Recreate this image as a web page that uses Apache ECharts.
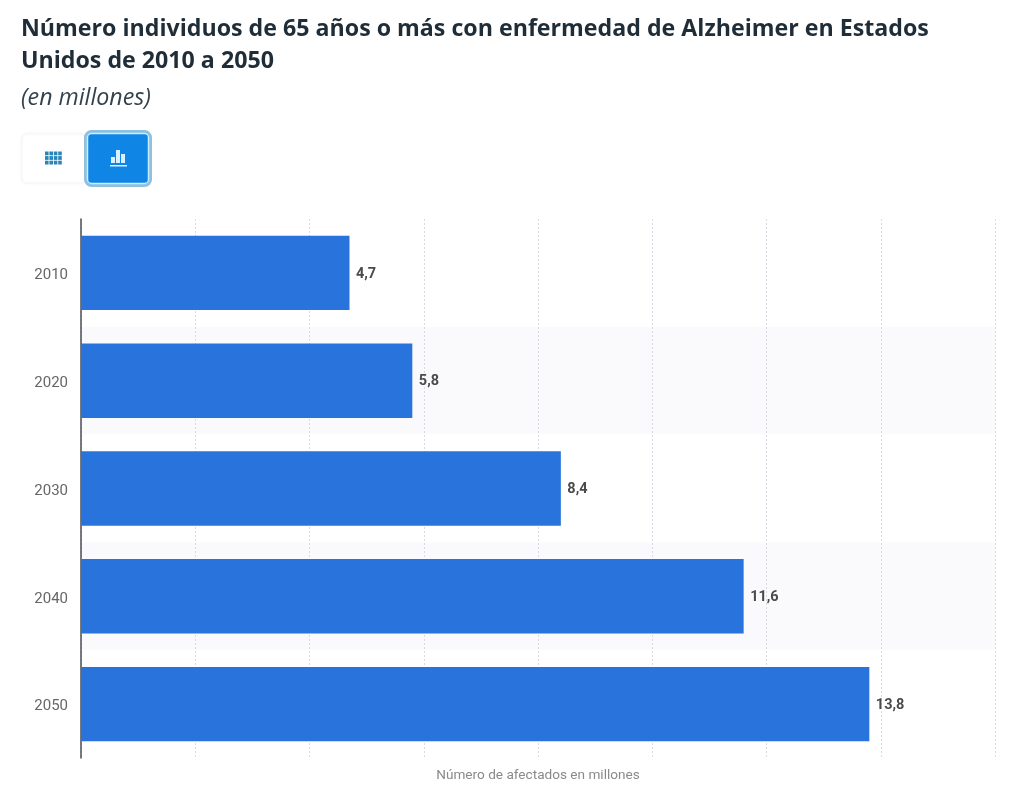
<!DOCTYPE html>
<html><head><meta charset="utf-8">
<style>html,body{margin:0;padding:0;background:#fff}#c{width:1024px;height:793px}</style>
<script src="https://cdn.jsdelivr.net/npm/echarts@6/dist/echarts.min.js"></script>
</head><body><div id="c"></div>
<script>
const titleText = "Número individuos de 65 años o más con enfermedad de Alzheimer en Estados\nUnidos de 2010 a 2050";
const subtitleText = "(en millones)";
const axisName = "Número de afectados en millones";
const categories = ["2010","2020","2030","2040","2050"];
const affected = [4.7,5.8,8.4,11.6,13.8];

const chart = echarts.init(document.getElementById('c'), null, {renderer:'canvas'});
const gridCells = [];
for (let r=0;r<3;r++) for (let q=0;q<4;q++) gridCells.push({type:'rect',z:2,shape:{x:45+q*4.4,y:151.5+r*4.6,width:3.6,height:3.8},style:{fill:'#2a86b8'}});
chart.setOption({
  animation:false,
  backgroundColor:'#fff',
  title:[
    {text:titleText,left:16,top:8,textStyle:{fontFamily:'Open Sans',fontWeight:700,fontSize:23.2,lineHeight:32,color:'#1f2d38'}},
    {text:subtitleText,left:16,top:82,textStyle:{fontFamily:'Open Sans',fontStyle:'italic',fontWeight:400,fontSize:23.2,color:'#33424d'}}
  ],
  grid:{left:81,right:29,top:219,bottom:35,containLabel:false},
  xAxis:{type:'value',min:0,max:16,interval:2,
    name:axisName,nameLocation:'middle',nameGap:11,
    nameTextStyle:{fontFamily:'Roboto',fontSize:13.6,color:'#8a8a8a'},
    axisLabel:{show:false},axisTick:{show:false},axisLine:{show:false},
    splitLine:{show:true,lineStyle:{color:'#dcd8e4',type:[2,2],width:1}}},
  yAxis:{type:'category',inverse:true,data:categories,
    axisLine:{show:true,lineStyle:{color:'#4a4f55',width:1.5}},axisTick:{show:false},
    axisLabel:{fontFamily:'Roboto',fontSize:15,color:'#666',margin:13,verticalAlign:'top',lineHeight:15,padding:[-5,0,0,0]},
    splitArea:{show:true,areaStyle:{color:['#ffffff','#faf9fb']}}},
  series:[{type:'bar',data:affected,barWidth:'69%',z:3,
    itemStyle:{color:'#2874dc'},
    label:{show:true,position:'right',distance:6.5,offset:[0,1],fontFamily:'Roboto',fontWeight:700,fontSize:14.5,color:'#4a4a4a',
      formatter:p=>String(p.value).replace('.',',')}}],
  graphic:[
    {type:'rect',z:1,shape:{x:22,y:134,width:64,height:49,r:5},style:{fill:'#fff',stroke:'#f5f5f7',lineWidth:1,shadowBlur:4,shadowColor:'rgba(0,0,0,0.04)'}},
    {type:'group',children:gridCells},
    {type:'rect',z:3,shape:{x:85.5,y:131.5,width:65,height:54,r:6},style:{fill:'#0f85e6',stroke:'#8fc0dd',lineWidth:3}},
    {type:'rect',z:4,shape:{x:87.5,y:133.5,width:61,height:50,r:4},style:{fill:'none',stroke:'#c9eeff',lineWidth:1.5}},
    {type:'rect',z:5,shape:{x:111,y:157,width:4,height:6},style:{fill:'#d8f0ff'}},
    {type:'rect',z:5,shape:{x:116,y:150,width:4,height:13},style:{fill:'#d8f0ff'}},
    {type:'rect',z:5,shape:{x:121,y:154,width:4,height:9},style:{fill:'#d8f0ff'}},
    {type:'rect',z:5,shape:{x:110,y:165,width:17,height:1.5},style:{fill:'#d8f0ff'}}
  ]
});
</script></body></html>
